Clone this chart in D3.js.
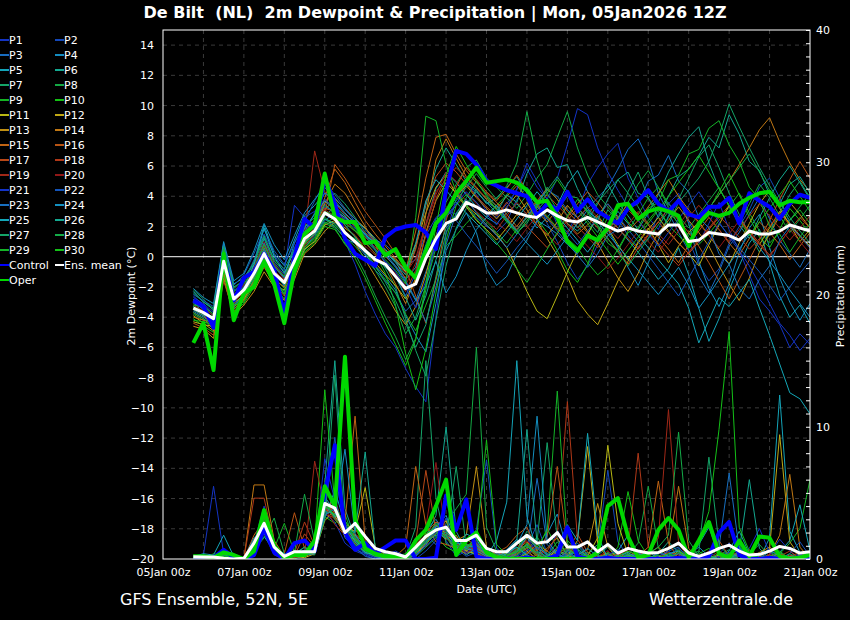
<!DOCTYPE html>
<html>
<head>
<meta charset="utf-8">
<script src="https://cdn.jsdelivr.net/npm/d3@7"></script>
<style>
  body { margin: 0; background: #000; }
  text { font-family: "DejaVu Sans", sans-serif; fill: #fff; }
</style>
</head>
<body>
<div id="chart"></div>
<script>
// forecast steps: 6-hourly from 05Jan 18z to 21Jan 00z
const runStart = new Date(Date.UTC(2026, 0, 5, 18));
const runEnd = new Date(Date.UTC(2026, 0, 21, 0));
const times = d3.utcHour.every(6).range(runStart, d3.utcHour.offset(runEnd, 1));

const dewTicks = [-20, -18, -16, -14, -12, -10, -8, -6, -4, -2, 0, 2, 4, 6, 8, 10, 12, 14];
const precTicks = [0, 10, 20, 30, 40];
const memberNames = d3.range(1, 31).map(n => 'P' + n);
const memberColors = [
  '#1434c4', '#1448b8', '#186cc0', '#148cc0', '#14a4b8', '#14a890', '#14a468', '#14a844', '#14b424', '#14c014',
  '#b8b814', '#c0a814', '#c09014', '#c07814', '#c06414', '#b85414', '#b84818', '#b03818', '#a02818', '#901818',
  '#1434c8', '#1454b8', '#1870c0', '#1490c0', '#14a8b8', '#14a890', '#14a468', '#14ac48', '#14b428', '#14c018'
];

// 2m dewpoint (°C)
const dewControl = [
  -2.9, -3.3, -4.7, 0.1, -2.9, -1.4, -1.0, 0.2, -0.9, -3.8,
  0.0, 2.5, 1.9, 5.2, 3.5, 1.2, 0.2, -0.2, -0.6, 1.3,
  1.8, 2.0, 2.1, 1.6, 0.5, 4.4, 7.0, 6.8, 6.1, 5.0,
  4.7, 4.4, 4.2, 4.0, 2.7, 3.5, 3.1, 4.3, 3.0, 3.8,
  3.0, 2.6, 2.2, 3.2, 3.7, 4.4, 3.5, 3.0, 3.7, 2.8,
  2.6, 3.3, 3.3, 3.9, 2.2, 4.2, 3.7, 3.3, 2.5, 3.5,
  4.1, 3.9
];
const dewOper = [
  -5.7, -4.4, -7.5, 0.2, -4.2, -2.4, -2.0, -0.3, -1.8, -4.4,
  -0.9, 1.5, 2.1, 5.5, 2.6, 2.3, 2.3, 0.9, 1.0, 0.1,
  0.5, -0.7, -1.4, 0.4, 2.2, 2.9, 4.2, 5.0, 5.9, 4.9,
  5.0, 5.1, 4.9, 4.4, 3.6, 3.7, 2.6, 1.0, 0.4, 1.4,
  1.1, 1.9, 3.4, 3.5, 2.5, 3.0, 3.2, 3.0, 2.7, 0.7,
  2.2, 2.9, 2.7, 2.9, 3.5, 3.9, 4.2, 4.3, 3.4, 3.7,
  3.6, 3.6
];
const dewMean = [
  -3.4, -3.7, -4.1, -0.3, -2.8, -2.2, -1.1, 0.2, -1.1, -1.7,
  -0.3, 1.2, 1.7, 2.9, 2.5, 1.6, 1.0, 0.4, -0.2, -0.5,
  -1.3, -2.1, -1.8, -0.1, 1.2, 2.2, 2.5, 3.6, 3.3, 2.9,
  2.9, 3.1, 2.9, 2.7, 2.6, 3.1, 2.7, 2.4, 2.3, 2.6,
  2.3, 2.0, 1.7, 1.9, 1.7, 1.6, 1.5, 2.1, 2.1, 1.0,
  1.1, 1.6, 1.5, 1.4, 1.1, 1.7, 1.5, 1.5, 1.7, 2.1,
  1.9, 1.7
];
const dewMembers = [
  [-3.0,-3.5,-4.4,-0.8,-2.5,-2.0,-1.4,0.5,-0.8,-2.0, 0.3,1.8,2.4,3.5,2.8,1.0,-0.5,-2.3,-3.8,-5.1, -6.0,-7.4,-8.6,-9.6,-4.0,1.5,3.8,4.9,4.1,3.0, 2.6,3.5,4.4,6.2,5.0,3.8,2.1,1.5,3.0,4.8, 5.9,6.8,7.5,5.2,3.9,2.6,1.8,3.5,4.2,2.4, 0.9,2.2,3.6,1.8,0.4,-1.2,-2.8,-3.6,-4.5,-6.0, -5.1,-5.8],
  [-2.6,-3.2,-3.8,0.6,-2.2,-1.9,-0.6,0.9,-0.4,-1.2, 0.6,1.9,2.2,3.3,3.0,2.5,2.2,1.6,1.1,0.8, 0.2,-0.6,-0.2,1.4,2.6,3.1,2.8,3.4,2.6,2.0, 1.6,2.3,3.8,4.6,3.7,2.2,1.0,-0.4,-1.5,-0.6, 0.8,1.9,2.5,1.4,0.6,1.2,2.8,3.6,2.4,1.1, -0.5,-1.6,-0.8,0.9,2.0,3.1,4.6,5.2,3.9,2.2, 1.4,0.6],
  [-2.8,-3.9,-4.6,-0.9,-3.2,-2.6,-1.8,-0.2,-1.6,-2.5, -0.9,0.6,1.4,2.4,2.9,2.1,1.3,0.2,-0.9,-1.6, -2.4,-3.6,-2.9,-1.0,0.8,2.6,3.4,4.8,4.3,3.6, 3.2,2.4,1.8,2.7,3.6,4.4,4.0,3.1,2.6,3.2, 3.9,4.6,5.8,7.1,7.8,6.4,4.2,2.9,1.6,0.4, -1.3,-2.4,-1.0,0.7,1.6,2.8,3.9,2.5,1.1,0.2, -0.7,0.5],
  [-3.6,-4.0,-4.4,-0.2,-3.4,-2.4,-0.9,1.2,-0.5,-1.4, 0.9,2.2,1.8,2.5,2.0,1.2,0.9,0.1,-0.6,-1.3, -2.2,-3.9,-5.2,-6.3,-3.1,0.4,1.8,2.9,1.6,-0.8, -1.9,-1.3,0.2,1.1,2.4,2.0,1.5,0.8,0.2,1.5, 2.6,1.8,0.6,-0.7,-1.9,-0.4,1.1,2.7,3.9,2.2, -0.3,-2.1,-3.3,-1.8,0.3,1.9,2.8,0.6,-1.4,-3.0, -4.2,-3.1],
  [-2.3,-3.0,-3.5,0.8,-1.8,-1.4,-0.4,2.1,0.2,-0.6, 1.1,2.7,3.4,4.2,3.6,2.8,2.3,1.9,1.2,0.5, -0.3,-1.5,-0.7,2.1,4.5,5.6,4.9,4.1,3.3,2.6, 2.2,2.9,3.5,2.8,1.9,2.6,3.4,4.8,5.7,4.3, 3.1,2.5,1.9,1.1,0.3,-0.6,-1.5,-0.8,0.6,-1.2, -3.4,-5.6,-4.1,-2.2,-0.6,0.9,1.8,-0.4,-2.6,-4.0, -3.2,-4.4],
  [-3.1,-3.4,-3.9,-0.6,-2.6,-2.0,-1.2,0.6,-1.0,-1.9, -0.6,0.9,1.5,2.7,3.3,2.7,2.0,1.4,0.9,0.3, -0.4,-1.2,0.6,3.4,5.8,7.2,6.1,5.0,4.4,3.5, 3.9,4.6,5.3,4.2,3.1,3.8,2.9,2.2,1.7,2.4, 3.5,4.8,3.6,2.7,1.8,2.9,4.1,5.6,6.8,7.9, 8.6,6.2,4.5,3.4,2.1,1.2,2.6,3.9,5.1,6.0, 4.9,3.8],
  [-2.2,-2.8,-3.6,0.4,-2.1,-1.5,-0.5,1.3,-0.3,-1.0, -0.1,1.4,2.0,3.6,4.2,3.5,2.6,1.6,0.4,-0.8, -2.0,-4.1,-6.2,-7.9,-4.2,-0.6,1.9,3.2,4.5,3.8, 3.1,2.4,1.6,2.2,3.4,4.6,3.8,2.7,1.9,2.8, 3.6,4.4,5.1,4.2,3.3,2.1,1.4,2.6,3.8,5.2, 6.6,7.4,5.9,4.2,2.8,1.5,0.3,1.6,2.9,4.1, 5.0,3.9],
  [-3.8,-4.2,-4.8,-0.9,-3.0,-2.7,-1.6,-0.4,-1.7,-2.4, -1.2,0.4,1.1,2.2,1.9,0.8,0.2,-1.1,-2.6,-4.0, -5.3,-6.8,-5.4,-2.2,1.3,3.6,4.8,5.9,6.4,5.2, 4.6,3.9,3.2,4.1,5.2,6.1,7.9,9.6,7.2,5.4, 4.1,3.3,2.5,3.6,4.8,5.7,4.6,3.5,2.7,1.9, 2.8,3.7,4.6,3.3,2.2,3.5,4.8,3.9,2.7,1.6, 2.5,3.4],
  [-3.3,-3.6,-4.0,0.3,-2.4,-2.6,-1.3,0.1,-1.4,-2.1, -0.7,0.8,1.6,2.6,2.1,1.5,1.2,0.3,-0.7,-1.5, -2.4,-3.8,-4.9,-3.2,-1.5,0.7,1.4,2.2,2.9,2.3, 1.6,0.9,1.8,2.6,3.4,2.7,1.9,1.2,0.6,-0.4, -1.2,-0.6,0.5,1.7,2.8,3.9,4.6,3.3,2.1,1.3, 0.8,1.5,2.4,3.3,4.2,2.9,1.7,0.9,1.6,2.4, 3.1,2.2],
  [-4.1,-4.6,-5.0,-1.2,-3.6,-3.1,-2.0,-0.6,-1.9,-2.8, -1.3,0.5,1.2,2.2,2.6,2.4,1.8,1.0,0.2,-1.1, -3.2,-6.4,-8.8,-6.1,-2.4,1.1,3.4,4.1,3.6,2.8, 3.4,4.1,4.9,3.8,2.5,1.6,0.4,-0.9,-1.7,-0.5, 1.3,2.6,3.4,2.3,1.6,2.4,3.2,2.1,1.4,0.7, 1.9,3.1,4.3,5.5,4.1,2.6,1.3,0.6,1.8,3.2, 2.4,1.5],
  [-4.3,-4.5,-4.6,-1.0,-3.5,-2.8,-1.7,-0.5,-1.9,-2.2, -1.0,0.5,1.0,2.1,2.4,1.9,1.4,0.5,-0.4,-1.2, -1.9,-2.8,-1.5,1.6,3.7,4.9,4.2,3.4,2.8,2.1, 1.5,0.6,-0.8,-2.3,-3.6,-4.1,-2.6,-1.0,0.4,1.5, 2.7,1.9,0.8,-0.2,0.9,1.8,2.6,1.7,0.9,0.2, -0.6,0.8,2.1,3.4,2.6,1.5,0.8,1.9,3.0,2.2, 1.4,0.7],
  [-3.9,-4.4,-4.9,-0.7,-3.1,-2.5,-1.3,0.0,-1.2,-1.8, -0.4,0.9,1.9,3.1,3.8,3.2,2.5,1.9,1.1,0.4, -0.2,-1.0,0.8,2.9,4.6,5.4,4.1,3.3,2.4,1.8, 1.1,1.9,2.8,3.6,2.4,1.2,0.1,-1.3,-2.9,-3.8, -4.5,-3.1,-1.6,-0.3,1.0,1.9,0.8,-0.4,0.7,1.6, 2.3,1.4,0.5,-0.5,0.9,2.2,3.5,4.4,3.2,2.1, 1.0,1.8],
  [-4.6,-4.8,-5.4,-1.4,-3.9,-3.2,-2.3,-1.0,-2.0,-2.9, -1.5,0.2,0.8,1.7,2.3,1.7,0.9,-0.2,-1.3,-2.4, -3.6,-4.5,-3.3,-1.2,1.4,3.1,4.0,4.7,3.9,3.2, 2.5,3.3,4.1,3.1,2.1,1.4,2.3,3.4,2.6,1.7, 0.9,-0.3,-1.4,-2.3,-1.1,0.4,1.6,2.4,3.3,2.4, 1.6,0.7,-0.6,-1.8,-2.9,-1.4,0.3,1.5,2.7,3.6, 2.8,1.9],
  [-4.0,-4.2,-4.3,-0.4,-3.3,-2.9,-1.5,-0.1,-1.5,-2.0, -0.6,1.0,1.7,3.5,4.8,4.2,3.1,2.0,0.8,-0.5, -1.8,-3.1,-1.4,2.8,6.4,7.8,6.5,5.3,4.6,3.8, 3.2,4.0,4.7,3.9,3.0,2.3,3.1,2.2,1.5,2.1, 2.8,3.5,2.6,1.7,2.4,3.3,4.2,5.1,4.0,3.1, 2.3,3.2,4.1,5.0,6.1,7.2,8.4,9.2,7.6,6.2, 5.1,4.3],
  [-3.7,-4.1,-4.7,-1.1,-3.0,-2.3,-1.0,0.4,-1.3,-1.6, -0.2,1.3,2.1,3.9,5.8,4.9,3.6,2.4,1.5,0.7, -0.1,-0.9,1.7,5.2,7.9,8.1,6.8,5.7,4.9,4.2, 3.6,2.8,2.0,2.9,3.7,4.5,3.8,3.0,2.3,1.6, 0.8,1.7,2.6,3.5,2.8,2.1,1.3,0.5,-0.4,0.8, 1.7,2.6,1.8,0.9,0.1,1.2,2.3,1.6,0.8,-0.2, 0.7,1.6],
  [-4.4,-4.7,-5.2,-1.6,-3.7,-2.9,-1.9,-0.7,-1.8,-2.6, -1.1,0.7,1.5,2.8,6.1,5.2,4.1,3.0,2.1,1.2, 0.2,-0.8,-2.6,-4.4,-1.5,2.4,4.6,5.9,5.1,4.3, 3.7,4.5,5.4,4.4,3.4,2.6,1.8,2.6,3.5,4.3, 3.6,2.7,1.9,1.2,0.5,1.4,2.3,3.2,2.4,1.6, 0.7,-0.4,-1.6,-2.8,-1.5,-0.2,1.1,2.4,3.8,5.1, 6.3,5.2],
  [-3.5,-3.9,-4.5,-0.9,-2.9,-2.4,-1.2,0.3,-1.0,-1.8, -0.4,1.1,1.9,3.2,3.0,2.6,2.0,1.3,0.6,0.0, -0.6,-1.4,0.5,3.6,5.3,6.2,5.6,4.8,4.0,3.3, 2.7,3.6,2.8,2.0,1.3,0.6,1.5,2.4,3.2,2.6, 1.9,1.2,0.4,-0.5,0.6,1.5,2.3,1.6,0.9,0.2, 1.0,1.8,2.6,3.4,2.5,1.7,0.9,0.1,0.9,1.8, 2.6,1.9],
  [-3.2,-3.6,-4.2,-0.5,-2.7,-2.1,-0.8,0.7,-0.6,-1.5, 0.2,1.6,2.4,3.7,3.3,2.3,1.7,0.9,0.2,-0.6, -1.4,-2.3,-0.9,1.4,3.8,5.3,5.9,5.2,4.5,3.9, 3.4,2.6,1.8,2.6,3.3,4.1,3.4,2.7,2.0,1.3, 0.6,1.4,2.2,3.1,2.4,1.6,0.9,0.1,-0.6,0.3, 1.1,1.9,2.7,2.0,1.3,0.5,1.2,2.0,2.9,2.1, 1.3,0.6],
  [-3.4,-3.8,-4.1,-0.7,-2.8,-2.3,-1.0,0.9,-0.9,-1.6, -0.1,1.5,7.0,4.3,3.5,2.8,2.2,1.6,1.0,0.4, -0.3,-1.1,-0.1,2.2,4.3,5.1,4.4,3.7,3.0,2.4, 1.8,2.7,3.6,2.8,2.1,1.5,0.8,1.6,2.5,3.3, 2.6,1.9,1.2,2.1,3.0,2.2,1.5,0.8,1.7,2.6, 3.4,2.6,1.8,1.0,1.8,2.7,3.5,2.7,1.9,1.1, 1.9,2.7],
  [-3.0,-3.4,-3.9,-0.2,-2.5,-1.9,-0.7,1.0,-0.5,-1.3, 0.1,1.3,2.0,3.1,2.7,2.0,1.4,0.7,0.1,-0.5, -1.1,-1.9,-0.4,2.0,4.1,5.6,5.0,4.2,3.5,2.9, 2.3,1.7,1.0,1.9,2.7,3.5,2.8,2.1,1.4,0.7, 0.0,-0.8,-0.1,0.8,1.7,1.0,0.3,1.2,2.1,3.0, 2.2,1.4,0.6,1.5,2.4,1.6,0.8,0.0,0.9,1.8, 1.0,0.2],
  [-2.7,-3.1,-3.7,0.2,-2.3,-1.7,-0.2,1.5,0.1,-0.9, 3.4,2.6,3.0,3.8,3.2,2.4,1.9,1.1,0.4,-0.3, -1.0,-2.0,-3.4,-1.6,0.9,2.7,3.5,4.3,3.6,2.8, 2.1,3.2,4.5,5.8,4.6,3.8,5.2,7.4,9.8,9.4, 7.2,5.6,4.4,3.3,2.4,1.5,0.7,1.6,2.5,3.4, 4.3,3.3,2.3,1.3,0.4,-0.6,-1.8,-3.1,-4.4,-5.2, -6.2,-5.4],
  [-2.5,-2.9,-3.3,0.9,-1.9,-1.2,0.2,1.8,0.4,-0.5, 0.9,2.3,3.7,4.9,4.1,3.2,2.3,1.4,0.5,-0.4, -1.3,-2.6,-1.1,0.8,2.5,3.2,2.4,1.5,0.7,-0.2, -1.1,-0.3,0.6,1.4,2.3,3.1,2.4,1.6,0.8,1.7, 2.6,3.5,2.7,1.8,1.0,0.1,-0.8,-1.7,-2.6,-1.4, -0.2,1.0,2.2,1.4,0.6,-0.2,-1.0,-1.9,-2.9,-2.0, -1.1,-0.3],
  [-2.9,-3.5,-4.2,-0.4,-2.7,-2.2,-1.0,0.9,-0.7,-1.4, 0.1,1.6,2.9,4.2,3.9,3.1,2.5,1.8,1.0,0.2, -0.6,-1.6,-2.8,-4.3,-2.0,0.8,2.9,3.8,2.9,2.1, 1.4,0.6,1.5,2.4,3.3,2.5,1.7,0.9,0.1,-0.7, 0.2,1.4,1.8,3.2,3.5,5.0,5.4,6.7,5.0,4.3, 2.6,1.9,0.2,-0.5,-2.1,-2.8,-1.5,-0.6,1.1,2.0, 1.4,0.6],
  [-2.1,-2.7,-3.1,1.0,-1.6,-1.1,0.4,2.2,0.8,-0.2, 1.4,2.9,3.8,4.6,3.7,2.9,2.2,1.5,0.8,0.1, -0.7,-1.7,-2.9,-1.9,-0.3,-2.4,-1.3,0.4,1.8,2.6, 3.4,2.5,1.7,0.9,0.2,-0.5,0.4,1.3,2.2,3.1, 2.3,1.5,0.7,-0.1,-0.9,-1.7,-2.5,-1.6,-0.7,-1.9, -3.4,-2.5,-1.5,-0.5,0.5,1.5,0.6,-0.3,-1.2,-2.2, -3.1,-4.0],
  [-3.3,-3.8,-4.3,-0.1,-2.9,-2.1,-0.5,1.9,0.0,-1.1, 0.4,1.9,2.8,3.7,3.1,2.6,2.1,1.5,0.9,0.3, -0.3,-0.9,0.9,3.7,5.1,4.4,3.6,2.9,2.2,1.5, 0.8,1.6,2.5,3.4,4.3,3.5,2.7,1.9,1.1,0.3, 1.2,2.1,3.0,2.2,1.4,0.6,-0.2,-1.0,-1.8,-3.4, -5.7,-4.2,-2.7,-3.3,-2.4,-1.5,-3.4,-5.2,-7.1,-9.0, -9.4,-10.4],
  [-3.5,-3.9,-4.0,-0.3,-2.6,-2.4,-1.4,0.4,-1.2,-1.9, -0.5,1.0,1.5,2.5,2.2,1.6,1.1,0.5,-0.1,-0.7, -1.3,-2.7,-4.2,-2.6,-0.2,1.9,2.7,3.5,4.3,3.6, 2.9,4.1,3.6,5.5,6.8,7.2,5.9,6.1,4.5,3.2, 2.4,3.8,5.1,5.6,4.2,3.9,2.6,4.0,5.3,5.8, 6.7,7.9,7.2,9.4,8.1,6.3,5.7,4.1,3.5,4.8, 5.3,4.2],
  [-2.4,-3.0,-3.4,0.7,-2.0,-1.6,-0.3,1.4,-0.2,-0.8, 0.5,2.0,2.6,3.4,2.9,2.1,1.3,0.4,-0.6,-1.7, -2.9,-4.4,-6.0,-4.5,-1.3,1.6,2.8,3.9,5.0,4.1, 3.3,2.5,1.7,2.6,3.5,4.4,5.3,4.3,3.3,2.4, 1.6,3.1,2.4,4.3,5.6,3.9,3.0,2.1,3.6,4.4, 5.2,6.3,8.0,10.1,8.6,7.2,5.9,4.7,3.6,2.6, 1.7,0.9],
  [-3.7,-4.1,-4.5,-0.6,-3.3,-2.6,-1.5,0.0,-1.6,-2.3, -0.9,0.6,1.3,2.3,2.0,1.3,0.7,-0.1,-0.9,-2.0, -3.3,-5.1,-4.0,-1.9,0.6,2.9,3.7,4.6,5.5,4.6, 3.8,4.7,6.2,9.6,6.4,4.2,3.1,4.0,3.9,3.0, 2.1,1.2,0.3,-0.6,0.3,1.2,2.1,3.0,2.2,1.4, 2.3,3.2,4.1,5.0,5.9,6.8,5.6,4.4,3.3,2.4, 3.3,4.2],
  [-3.2,-3.3,-3.8,0.5,-2.3,-1.8,-0.8,0.8,-0.6,-1.3, 0.0,1.4,2.2,3.0,2.7,2.2,1.7,1.1,0.5,-0.2, -0.9,-1.8,2.6,9.3,9.0,6.1,4.3,3.4,2.5,1.7, 0.9,0.1,-0.8,-1.7,-0.6,0.5,1.6,2.7,3.8,2.9, 2.0,0.9,0.4,1.6,1.9,3.2,3.6,5.1,5.4,6.8, 7.1,8.5,9.0,7.4,6.3,4.6,3.8,2.0,1.5,0.3, 1.3,2.2],
  [-4.2,-4.3,-4.5,-0.8,-3.2,-3.0,-1.7,-0.2,-1.4,-2.5, -1.0,0.3,0.9,2.0,1.8,0.9,-0.1,-1.4,-2.9,-4.4, -5.8,-7.2,-5.5,-1.8,2.0,5.4,7.3,6.1,5.0,4.0, 3.1,2.3,1.5,2.4,3.3,4.2,5.1,4.1,3.1,2.2, 1.3,0.4,-0.5,0.4,1.3,2.2,3.1,4.0,4.9,5.8, 6.7,5.6,4.5,3.4,2.4,1.4,2.3,3.2,4.1,5.0, 4.0,3.0]
];

// 6-hourly precipitation (mm)
const precControl = [
  0.0, 0.0, 0.1, 0.7, 0.1, 0.0, 0.3, 2.3, 0.5, 0.0,
  1.2, 1.4, 0.6, 5.0, 8.6, 2.0, 0.7, 1.2, 0.4, 0.9,
  1.4, 1.4, 0.0, 0.0, 0.1, 4.8, 2.2, 4.5, 0.2, 0.0,
  0.0, 0.0, 0.0, 0.1, 0.0, 0.0, 0.3, 2.4, 0.2, 0.0,
  0.0, 0.1, 0.0, 0.0, 0.0, 0.0, 0.0, 0.0, 0.1, 0.0,
  0.0, 0.2, 2.0, 2.8, 0.3, 0.0, 0.0, 0.1, 0.0, 0.0,
  0.0, 0.0
];
const precOper = [
  0.2, 0.2, 0.1, 0.5, 0.3, 0.0, 0.6, 3.7, 1.0, 0.1,
  0.3, 0.3, 1.4, 5.5, 4.0, 15.3, 3.0, 0.8, 0.4, 0.2,
  0.2, 0.1, 1.4, 2.2, 4.0, 6.0, 0.3, 1.4, 2.0, 0.5,
  0.1, 0.0, 0.0, 0.0, 0.0, 0.0, 0.0, 0.0, 0.0, 0.0,
  0.5, 4.0, 4.6, 1.7, 0.1, 0.3, 2.2, 3.1, 2.2, 0.1,
  1.4, 2.8, 0.4, 0.1, 1.4, 0.2, 1.7, 1.6, 0.2, 0.0,
  0.1, 0.3
];
const precMean = [
  0.17, 0.15, 0.15, 0.05, 0.0, 0.05, 1.2, 2.7, 0.9, 0.2,
  0.55, 0.55, 0.55, 4.2, 3.85, 2.0, 2.7, 1.7, 0.8, 0.55,
  0.4, 0.15, 0.9, 1.7, 2.2, 2.4, 1.4, 1.4, 1.8, 0.8,
  0.55, 0.55, 1.2, 1.8, 1.2, 1.3, 2.0, 0.9, 0.9, 1.3,
  0.55, 1.1, 0.45, 0.8, 0.6, 0.45, 0.5, 0.8, 1.2, 0.45,
  0.2, 0.45, 0.8, 1.05, 0.6, 0.3, 0.35, 0.6, 0.95, 0.8,
  0.45, 0.55
];
const precMembers = [
  [0.1,0.3,5.5,0.4,0.0,0.0,0.8,1.9,0.3,0.0, 0.2,0.6,0.9,3.4,2.8,1.2,0.6,0.3,0.0,0.2, 0.5,0.0,0.3,1.1,2.6,1.4,0.2,0.6,1.9,0.4, 0.0,0.2,0.8,1.6,0.5,0.0,2.2,0.7,0.0,0.3, 0.0,0.4,0.1,0.0,0.0,0.6,0.2,0.0,0.0,0.3, 0.0,0.0,0.4,1.2,0.2,0.0,0.0,0.3,1.5,0.6, 0.0,0.2],
  [0.0,0.1,0.2,0.0,0.0,0.0,1.2,2.1,0.4,0.1, 0.0,0.3,0.4,4.6,3.1,2.0,0.7,0.4,0.1,0.0, 0.2,0.1,0.0,0.6,1.4,3.1,0.8,0.2,0.5,0.1, 0.0,0.0,0.2,0.9,2.6,0.4,0.0,0.1,0.3,0.0, 0.8,6.7,1.3,0.2,0.0,0.0,0.3,0.0,0.1,0.0, 0.0,0.5,0.1,0.0,0.0,0.2,0.0,0.0,0.0,0.1, 0.4,0.0],
  [0.2,0.0,0.1,0.3,0.1,0.0,0.5,2.8,0.9,0.0, 0.1,0.2,0.6,3.9,4.4,1.6,0.9,0.2,0.0,0.1, 0.0,0.0,0.7,1.8,1.1,2.4,0.6,0.9,1.2,0.3, 0.2,0.0,0.0,0.6,6.1,1.1,0.3,0.0,0.0,0.5, 0.1,0.0,0.0,0.2,0.0,0.0,0.0,0.6,0.9,0.0, 0.0,0.0,0.0,0.3,0.0,0.0,0.4,0.0,0.0,0.0, 0.2,0.0],
  [0.1,0.1,0.0,0.4,0.0,0.1,1.1,2.4,0.5,0.3, 0.6,0.4,0.8,4.2,3.2,2.4,1.1,0.5,0.2,0.0, 0.0,0.3,1.6,2.2,3.0,1.8,0.4,0.8,0.5,0.0, 0.3,0.7,1.5,0.2,0.0,1.9,3.4,0.6,0.0,0.2, 0.0,0.3,0.0,0.0,0.5,0.1,0.0,0.0,0.2,0.0, 1.1,2.4,0.3,0.0,0.0,0.0,0.2,0.8,0.1,0.0, 0.0,0.3],
  [0.2,0.4,0.3,1.8,0.2,0.0,0.9,1.7,0.6,0.2, 0.4,0.9,0.5,3.1,5.2,2.6,1.4,0.7,0.3,0.0, 0.1,0.0,0.4,1.3,2.8,1.9,1.1,0.3,0.8,0.2, 1.4,4.3,15.0,3.2,0.6,0.1,0.0,0.4,1.0,0.2, 0.0,0.0,0.6,1.8,0.4,0.0,0.2,0.0,0.0,0.5, 0.1,0.0,0.0,0.3,0.9,0.2,0.0,1.6,12.4,2.1, 0.5,0.1],
  [0.0,0.2,0.0,0.1,0.0,0.0,0.6,3.1,1.2,0.0, 0.3,0.5,1.2,5.6,15.0,3.8,1.6,0.4,0.6,0.2, 0.0,0.0,0.5,1.7,3.3,10.0,2.1,0.6,0.3,0.9, 0.2,0.0,0.4,1.1,0.3,0.0,0.6,0.2,0.0,0.0, 0.3,0.9,0.2,0.0,0.0,0.0,0.4,1.3,0.5,0.0, 0.0,0.2,0.0,0.6,2.1,0.4,0.0,0.0,0.3,0.0, 0.0,0.1],
  [0.1,0.0,0.2,0.5,0.3,0.1,1.4,2.2,0.7,0.2, 0.1,0.3,0.7,4.4,3.6,2.9,1.8,0.6,0.4,0.1, 0.0,0.2,2.4,15.0,4.6,1.2,0.7,0.4,0.9,0.3, 0.0,0.1,0.6,2.1,1.3,8.8,1.5,0.2,0.0,0.4, 1.1,0.3,0.0,0.0,0.2,0.6,0.0,0.0,0.4,0.1, 0.0,0.0,0.3,0.7,0.0,0.0,0.0,0.2,0.5,0.0, 0.1,0.0],
  [0.3,0.1,0.0,0.2,0.0,0.0,0.7,1.6,3.1,0.4, 0.2,0.4,0.3,3.6,4.1,2.2,0.9,0.8,0.3,0.2, 0.4,0.1,0.2,0.9,1.6,2.7,3.8,4.9,16.0,2.4, 0.6,0.2,0.0,0.5,1.7,0.4,0.0,0.3,0.8,0.1, 0.0,0.2,0.6,0.3,1.2,5.5,0.8,0.0,0.0,0.3, 0.6,0.0,0.0,0.2,0.0,0.4,1.1,0.2,0.0,0.0, 0.0,0.3],
  [0.0,0.0,0.4,0.2,0.1,0.0,0.9,2.6,0.8,2.7, 0.5,0.2,0.6,3.2,2.7,3.4,1.2,0.5,0.2,0.4, 0.1,0.0,0.6,1.5,2.4,1.6,0.7,1.1,0.6,0.2, 0.0,0.3,0.9,0.2,0.0,0.0,0.3,1.4,0.6,0.0, 0.0,0.5,0.2,0.0,0.0,0.3,0.0,0.2,0.7,0.1, 0.0,0.0,0.0,0.3,1.0,0.2,0.0,0.0,0.4,1.2, 2.3,6.0],
  [0.1,0.2,0.1,0.0,0.0,0.0,1.3,3.2,0.6,0.1, 0.0,0.4,1.1,12.8,4.2,1.9,1.3,0.7,0.5,0.0, 0.2,0.4,1.2,2.3,1.7,0.9,0.5,0.8,1.3,0.4, 0.0,0.0,0.3,1.2,0.6,2.3,0.8,0.0,0.2,0.5, 0.0,0.0,0.9,5.1,1.4,0.2,0.0,0.3,0.0,0.0, 0.4,0.8,0.2,0.0,0.0,0.0,0.3,0.6,0.0,0.0, 0.2,0.0],
  [0.0,0.1,0.0,0.2,0.2,0.0,0.8,2.3,1.0,0.3, 0.2,0.1,0.4,2.9,3.7,2.4,2.1,5.4,0.9,0.3, 0.0,0.1,0.9,1.6,2.1,1.5,1.8,0.6,0.4,0.0, 0.0,0.4,1.3,0.6,0.0,0.1,0.7,0.3,0.0,0.2, 1.6,8.6,2.7,0.3,0.0,0.0,0.2,0.0,0.0,0.6, 0.2,0.0,0.0,0.0,0.5,0.3,0.0,0.0,0.0,0.2, 0.0,0.0],
  [0.2,0.0,0.0,0.3,0.0,0.1,1.0,2.0,0.7,0.0, 0.1,0.6,0.8,3.8,3.3,1.7,1.5,0.9,0.4,0.2, 0.5,0.0,0.3,1.2,1.9,2.9,0.9,0.6,1.1,0.2, 0.0,0.0,0.5,1.6,0.9,0.3,0.0,0.2,1.4,8.5, 1.2,0.0,0.0,0.2,0.5,0.0,0.0,0.0,0.6,0.1, 0.0,0.0,0.3,0.2,0.0,0.0,0.0,0.8,9.4,1.3, 0.2,0.0],
  [0.1,0.2,0.1,0.1,0.0,0.0,1.5,2.5,0.4,0.2, 0.3,0.2,0.5,4.1,3.0,2.1,1.8,1.2,0.6,0.1, 0.0,0.3,0.6,1.0,2.3,2.0,1.4,1.8,7.0,0.9, 0.3,0.0,0.0,0.4,1.1,0.6,0.0,0.0,0.3,0.7, 4.2,0.9,0.0,0.0,0.0,0.4,0.9,0.2,0.0,0.0, 0.0,0.3,0.0,0.0,0.2,0.0,0.5,0.9,0.3,0.0, 0.0,0.2],
  [0.0,0.1,0.2,0.4,0.1,0.0,5.6,5.6,1.4,0.2, 0.6,0.3,0.9,5.3,3.9,2.6,2.3,1.0,0.3,0.2, 0.1,0.0,1.1,1.8,2.6,1.7,1.0,1.5,1.0,0.6, 0.2,0.5,0.2,0.0,0.3,0.8,1.6,0.3,0.0,0.0, 0.2,0.4,0.0,0.0,0.3,0.0,0.0,0.7,5.5,0.8, 0.0,0.0,0.0,0.4,0.2,0.0,0.0,0.3,1.8,6.4, 0.9,0.0],
  [0.1,0.0,0.1,0.2,0.0,0.0,1.8,2.9,0.9,0.1, 0.4,0.5,0.7,4.3,3.5,2.8,10.8,1.4,0.5,0.3, 0.2,0.9,7.0,2.6,1.3,1.1,0.8,0.4,0.9,0.3, 0.0,0.2,0.7,1.3,0.4,0.0,0.5,0.8,0.2,0.0, 0.3,0.0,0.0,0.6,0.2,0.9,5.9,1.2,0.0,0.0, 0.3,0.2,0.0,0.0,0.6,0.0,0.0,0.2,0.4,0.0, 0.1,0.0],
  [0.0,0.2,0.0,0.1,0.3,0.0,1.1,3.3,0.6,0.4, 3.5,0.8,0.6,3.7,4.6,1.9,1.4,1.1,0.9,0.4, 0.1,0.0,0.4,2.0,2.8,2.5,1.6,0.9,0.7,0.2, 0.5,0.9,1.8,2.4,0.6,1.7,7.0,1.0,0.2,0.0, 0.0,0.0,0.4,0.2,0.0,0.0,0.0,0.5,0.3,0.0, 0.0,0.6,1.4,0.2,0.0,0.0,0.0,0.3,0.0,0.2, 0.5,0.0],
  [0.2,0.1,0.0,0.3,0.0,0.0,0.9,2.6,0.5,0.0, 0.2,1.9,0.9,4.5,3.4,2.3,1.6,0.8,0.2,0.0, 0.3,0.1,1.3,6.7,2.1,1.8,0.6,1.0,1.2,0.4, 0.1,0.0,0.4,0.8,0.2,0.0,0.0,0.6,1.9,0.5, 0.0,0.3,0.0,0.0,0.6,0.2,0.0,0.0,0.4,0.0, 0.0,0.0,0.2,0.0,0.0,0.7,0.2,0.0,0.0,0.3, 0.0,0.1],
  [0.1,0.0,0.2,0.2,0.1,0.0,4.6,4.6,1.1,0.3, 0.4,2.8,1.0,3.4,3.1,2.0,1.7,0.9,0.4,0.2, 0.0,0.2,0.8,1.5,1.9,2.3,1.2,0.7,1.4,0.3, 0.0,0.1,0.6,1.0,0.3,0.6,1.8,11.9,1.5,0.2, 0.0,0.0,0.3,0.7,8.0,0.9,0.0,0.2,0.0,0.0, 0.2,0.0,0.0,0.3,0.5,0.0,0.0,0.0,0.2,0.6, 0.0,0.0],
  [0.0,0.1,0.1,0.4,0.0,0.0,1.4,2.2,0.6,0.1, 0.1,0.3,7.4,3.9,2.6,1.8,1.9,1.3,0.6,0.3, 0.4,0.0,0.5,1.3,2.2,1.9,0.8,1.2,0.5,0.1, 0.3,0.6,1.1,0.5,0.0,0.2,0.9,0.4,0.0,0.3, 0.0,0.0,0.2,0.0,0.0,0.4,1.6,11.3,1.2,0.0, 0.0,0.3,0.0,0.0,0.0,0.2,0.4,0.0,0.0,0.0, 0.3,0.0],
  [0.1,0.2,0.0,0.0,0.2,0.1,1.0,2.4,0.8,0.2, 0.3,0.4,0.6,4.0,3.0,2.5,1.2,0.6,0.3,0.1, 0.0,0.2,0.9,2.4,7.3,1.6,0.9,0.5,0.8,0.2, 0.0,0.3,0.8,1.4,0.5,0.0,0.3,0.9,0.4,0.0, 0.2,0.6,0.0,0.0,0.0,0.3,0.5,0.0,0.2,0.0, 0.0,0.0,0.6,0.2,0.0,0.0,0.0,0.4,0.2,0.0, 0.0,0.3],
  [0.0,0.1,0.3,0.2,0.0,0.0,1.2,4.0,0.9,0.1, 0.6,0.4,0.8,7.6,4.4,2.1,1.0,0.4,0.1,0.3, 0.6,0.2,0.3,1.0,1.7,2.6,1.5,0.4,1.3,0.5, 0.0,0.0,0.2,0.6,1.3,0.2,0.0,0.4,0.0,0.0, 0.0,0.3,0.7,0.1,0.0,0.0,0.2,0.6,0.0,0.0, 0.3,0.0,0.0,0.0,0.2,0.8,2.3,0.5,0.0,0.0, 0.2,0.0],
  [0.2,0.0,0.1,0.3,0.2,0.0,0.7,2.1,0.6,0.0, 0.2,0.7,0.5,3.5,9.2,2.7,1.5,0.8,0.5,0.1, 0.2,0.0,0.6,1.4,2.0,1.6,1.1,1.4,2.2,7.5, 0.8,0.2,0.0,0.3,0.9,0.4,0.0,0.2,0.6,0.1, 0.0,0.0,0.0,0.4,0.2,0.0,0.0,0.3,0.8,0.2, 0.0,0.0,0.2,0.5,0.0,0.0,0.3,0.0,0.0,0.4, 1.3,0.2],
  [0.1,0.2,0.0,0.1,0.0,0.0,0.8,2.7,0.7,0.2, 0.4,0.3,0.4,3.3,3.8,2.2,1.7,1.0,0.6,0.2, 0.3,0.1,0.2,1.1,2.5,2.1,1.6,0.9,1.0,0.4, 0.2,0.0,0.5,1.7,0.8,0.1,0.0,0.6,1.2,0.3, 0.0,0.2,0.0,0.0,0.5,0.0,0.0,0.2,0.4,0.0, 0.0,0.3,0.9,6.5,0.7,0.0,0.0,0.2,0.0,0.0, 0.3,0.0],
  [0.0,0.3,0.2,0.5,0.1,0.0,1.6,2.3,0.5,0.3, 0.5,0.6,0.7,4.0,3.2,8.3,1.9,0.7,0.2,0.0, 0.1,0.3,0.4,1.9,2.4,3.3,1.3,0.8,0.6,0.2, 0.4,0.2,1.1,2.6,10.8,1.4,0.4,0.0,0.3,0.8, 0.2,0.0,0.0,0.3,0.0,0.0,0.5,0.2,0.0,0.3, 0.9,0.2,0.0,0.0,0.4,0.0,0.0,0.6,0.3,0.0, 0.0,0.2],
  [0.1,0.0,0.1,0.4,0.0,0.0,1.3,2.4,0.9,0.4, 0.3,0.2,0.9,4.7,3.6,2.6,1.3,0.5,0.3,0.2, 0.0,0.0,1.0,1.7,2.2,1.8,0.7,1.9,1.5,0.3, 0.0,0.4,0.9,0.3,0.0,0.2,0.8,2.6,1.4,9.5, 1.8,0.0,0.2,0.5,0.0,0.0,0.0,0.4,0.6,0.0, 0.2,0.0,0.0,0.3,0.8,0.2,0.0,0.0,0.5,1.4, 4.1,0.6],
  [0.0,0.1,0.2,0.0,0.0,0.1,0.9,2.8,0.7,0.1, 0.2,0.5,0.6,3.6,3.4,2.4,2.0,8.1,0.8,0.4, 0.2,0.1,0.5,1.3,1.8,2.0,1.2,1.1,0.8,0.3, 0.1,0.6,1.4,9.8,1.2,0.3,0.0,0.2,0.7,0.2, 0.0,0.0,0.3,0.0,0.2,0.6,0.0,0.0,0.0,0.4, 0.0,0.3,0.0,0.0,0.6,6.0,0.8,0.0,0.0,0.2, 0.0,0.0],
  [0.2,0.1,0.0,0.2,0.3,0.0,1.1,2.0,0.4,0.2, 0.3,0.9,0.4,3.0,13.9,2.0,1.4,0.9,0.6,0.2, 0.1,0.0,0.7,1.4,2.1,1.6,7.0,0.9,1.1,0.5, 0.0,0.2,0.6,1.1,0.4,0.0,0.2,0.7,0.3,0.0, 0.0,0.4,0.0,0.0,0.3,0.2,0.0,0.0,0.2,0.0, 0.5,7.7,1.1,0.2,0.0,0.0,0.3,0.0,0.0,0.4, 0.0,0.1],
  [0.1,0.3,0.1,0.3,0.0,0.0,0.6,2.5,0.8,0.3, 0.5,4.9,1.3,4.5,3.0,2.3,1.1,0.6,0.4,0.0, 0.3,0.2,0.8,1.2,1.9,2.4,1.0,0.7,1.7,0.4, 0.2,0.0,0.3,0.9,0.5,0.2,1.3,0.4,0.0,0.0, 0.3,0.0,0.0,0.2,0.0,0.4,0.9,1.8,9.6,1.4, 0.2,0.0,0.0,0.4,0.0,0.2,0.0,0.0,0.3,0.0, 0.2,0.5],
  [0.0,0.0,0.2,0.1,0.2,0.0,1.2,2.9,0.6,0.2, 0.2,0.6,0.8,3.8,4.0,2.6,1.5,0.8,0.2,0.3, 0.4,0.0,0.4,1.6,2.7,1.7,0.9,1.3,1.8,0.6, 0.3,0.2,0.7,1.8,0.9,2.1,12.7,1.2,0.3,0.0, 0.0,0.2,0.0,0.4,0.0,0.0,0.3,0.0,0.5,0.2, 0.0,0.0,0.4,0.0,0.0,0.3,0.0,0.2,0.6,0.0, 0.0,0.4],
  [0.2,0.1,0.1,0.2,0.0,0.0,1.0,2.2,0.9,0.1, 0.4,0.3,0.5,4.2,3.3,2.9,1.6,0.7,0.3,0.1, 0.0,0.3,0.6,1.9,2.3,2.2,1.5,1.0,1.4,9.0, 1.1,0.3,0.5,1.0,0.2,0.0,0.4,0.9,0.2,0.3, 0.0,0.0,0.2,0.6,0.3,0.0,0.0,0.4,0.0,0.2, 1.2,3.6,9.8,17.2,2.4,0.6,0.0,0.0,0.3,0.0, 0.0,0.2]
];

const width = 850, height = 620;
const plot = { left: 163, right: 810, top: 30, bottom: 559 };

const svg = d3.select('#chart').append('svg')
  .attr('width', width)
  .attr('height', height)
  .style('background', '#000');

const x = d3.scaleUtc()
  .domain([new Date(Date.UTC(2026, 0, 5, 0)), runEnd])
  .range([plot.left, plot.right]);
const yDew = d3.scaleLinear().domain([-20, 15]).range([plot.bottom, plot.top]);
const yPrec = d3.scaleLinear().domain([0, 40]).range([plot.bottom, plot.top]);

svg.append('clipPath').attr('id', 'plot-clip')
  .append('rect')
  .attr('x', plot.left).attr('y', plot.top)
  .attr('width', plot.right - plot.left).attr('height', plot.bottom - plot.top);

// grid
const grid = svg.append('g')
  .attr('stroke', '#3a3a3a')
  .attr('stroke-width', 1)
  .attr('stroke-dasharray', '4,4');
grid.selectAll('line.v')
  .data(d3.utcDay.range(d3.utcDay.offset(x.domain()[0], 1), x.domain()[1]))
  .enter().append('line')
  .attr('x1', d => x(d)).attr('x2', d => x(d))
  .attr('y1', plot.top).attr('y2', plot.bottom);
grid.selectAll('line.h')
  .data(dewTicks.filter(d => d !== 0 && d !== -20))
  .enter().append('line')
  .attr('x1', plot.left).attr('x2', plot.right)
  .attr('y1', d => yDew(d)).attr('y2', d => yDew(d));

svg.append('line')
  .attr('x1', plot.left).attr('x2', plot.right)
  .attr('y1', yDew(0)).attr('y2', yDew(0))
  .attr('stroke', '#fff').attr('stroke-width', 1);

const dewLine = d3.line().x((d, i) => x(times[i])).y(d => yDew(d));
const precLine = d3.line().x((d, i) => x(times[i])).y(d => yPrec(d));

const lines = svg.append('g').attr('clip-path', 'url(#plot-clip)').attr('fill', 'none');

dewMembers.forEach((series, k) => {
  lines.append('path').attr('d', dewLine(series))
    .attr('stroke', memberColors[k]).attr('stroke-width', 1);
});
precMembers.forEach((series, k) => {
  lines.append('path').attr('d', precLine(series))
    .attr('stroke', memberColors[k]).attr('stroke-width', 1);
});

const mainSeries = [
  { dew: dewControl, prec: precControl, color: '#0000ff', width: 4 },
  { dew: dewOper, prec: precOper, color: '#00d800', width: 4 },
  { dew: dewMean, prec: precMean, color: '#ffffff', width: 3 }
];
mainSeries.forEach(s => {
  lines.append('path').attr('d', dewLine(s.dew))
    .attr('stroke', s.color).attr('stroke-width', s.width).attr('stroke-linejoin', 'round');
  lines.append('path').attr('d', precLine(s.prec))
    .attr('stroke', s.color).attr('stroke-width', s.width).attr('stroke-linejoin', 'round');
});

// frame
svg.append('rect')
  .attr('x', plot.left).attr('y', plot.top)
  .attr('width', plot.right - plot.left).attr('height', plot.bottom - plot.top)
  .attr('fill', 'none').attr('stroke', '#fff').attr('stroke-width', 1);

// axes
const styleAxis = g => {
  g.select('.domain').remove();
  g.selectAll('text').style('font-family', '"DejaVu Sans", sans-serif')
    .style('font-size', '11px').attr('fill', '#fff');
};

svg.append('g')
  .attr('transform', `translate(${plot.left},0)`)
  .call(d3.axisLeft(yDew).tickValues(dewTicks).tickSize(0).tickPadding(9))
  .call(styleAxis);

svg.append('g')
  .attr('transform', `translate(${plot.right},0)`)
  .call(d3.axisRight(yPrec).tickValues(precTicks).tickSize(0).tickPadding(6))
  .call(styleAxis);

svg.append('g')
  .attr('transform', `translate(${plot.right},0)`)
  .call(d3.axisLeft(yPrec).ticks(40).tickSize(4).tickFormat(''))
  .call(g => g.select('.domain').remove())
  .call(g => g.selectAll('line').attr('stroke', '#fff'));

svg.append('g')
  .attr('transform', `translate(0,${plot.bottom})`)
  .call(d3.axisBottom(x)
    .tickValues(d3.utcDay.every(2).range(x.domain()[0], d3.utcHour.offset(runEnd, 1)))
    .tickFormat(d3.utcFormat('%d%b %Hz'))
    .tickSize(0).tickPadding(9))
  .call(styleAxis);

svg.append('text')
  .attr('x', (plot.left + plot.right) / 2).attr('y', 593)
  .attr('text-anchor', 'middle').style('font-size', '11px')
  .text('Date (UTC)');

svg.append('text')
  .attr('transform', 'translate(135,296) rotate(-90)')
  .attr('text-anchor', 'middle').style('font-size', '11px')
  .text('2m Dewpoint (°C)');

svg.append('text')
  .attr('transform', 'translate(844,296) rotate(-90)')
  .attr('text-anchor', 'middle').style('font-size', '11px')
  .text('Precipitation (mm)');

// titles
svg.append('text')
  .attr('x', 435).attr('y', 18)
  .attr('text-anchor', 'middle')
  .style('font-size', '16px').style('font-weight', 'bold').style('white-space', 'pre')
  .text('De Bilt  (NL)  2m Dewpoint & Precipitation | Mon, 05Jan2026 12Z');

svg.append('text')
  .attr('x', 120).attr('y', 605)
  .style('font-size', '16px')
  .text('GFS Ensemble, 52N, 5E');

svg.append('text')
  .attr('x', 793).attr('y', 605)
  .attr('text-anchor', 'end')
  .style('font-size', '16px')
  .text('Wetterzentrale.de');

// legend
const legendItems = memberNames.map((name, k) => ({ name, color: memberColors[k] }))
  .concat([
    { name: 'Control', color: '#0000ff' },
    { name: 'Ens. mean', color: '#ffffff' },
    { name: 'Oper', color: '#00d800' }
  ]);

const legend = svg.append('g').selectAll('g')
  .data(legendItems)
  .enter().append('g')
  .attr('transform', (d, i) => `translate(${(i % 2) * 55},${40 + Math.floor(i / 2) * 15})`);

legend.append('line')
  .attr('x1', 0).attr('x2', 9).attr('y1', 0).attr('y2', 0)
  .attr('stroke', d => d.color).attr('stroke-width', 2);

legend.append('text')
  .attr('x', 9).attr('y', 4)
  .style('font-size', '11px')
  .text(d => d.name);
</script>
</body>
</html>
